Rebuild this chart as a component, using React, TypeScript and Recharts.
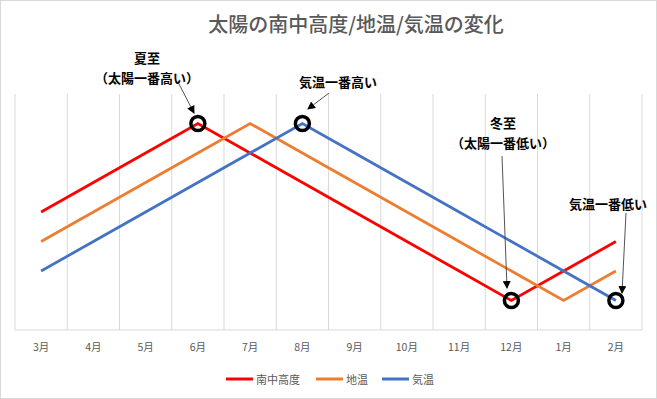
import React from 'react';
import { ComposedChart, Line, XAxis, YAxis, CartesianGrid, ReferenceDot } from 'recharts';

const months = ['3月', '4月', '5月', '6月', '7月', '8月', '9月', '10月', '11月', '12月', '1月', '2月'];
const altitude = [40, 50, 60, 70, 60, 50, 40, 30, 20, 10, 20, 30];
const soilTemp = [30, 40, 50, 60, 70, 60, 50, 40, 30, 20, 10, 20];
const airTemp = [20, 30, 40, 50, 60, 70, 60, 50, 40, 30, 20, 10];

const seriesKeys = ['altitude', 'soil', 'air'];
const seriesNames = ['南中高度', '地温', '気温'];
const seriesColors = ['#FF0000', '#ED7D31', '#4472C4'];

const highlights = [
  { x: '6月', y: 70 },
  { x: '8月', y: 70 },
  { x: '12月', y: 10 },
  { x: '2月', y: 10 },
];

const data = months.map((m, i) => ({ month: m, altitude: altitude[i], soil: soilTemp[i], air: airTemp[i] }));

const W = 657;
const H = 399;
const FONT = '"Noto Sans CJK JP", "Noto Sans", sans-serif';

const annotations = [
  { lines: ['夏至', '（太陽一番高い）'], x: 147, y: 57, arrow: [179, 84, 194, 113] },
  { lines: ['気温一番高い'], x: 338, y: 81, arrow: [329, 93, 308, 109] },
  { lines: ['冬至', '（太陽一番低い）'], x: 503, y: 122, arrow: [502, 156, 507, 288] },
  { lines: ['気温一番低い'], x: 608, y: 203, arrow: [626, 213, 622, 293] },
];

const legendLayout = [{ x: 226 }, { x: 316 }, { x: 382 }];

export default function App() {
  return (
    <div style={{ position: 'absolute', left: 0, top: 0, width: W, height: H, background: '#fff' }}>
      <ComposedChart width={W} height={H} data={data} margin={{ top: 94, right: 15, bottom: 39, left: 15 }}>
        <CartesianGrid
          horizontal={false}
          stroke="#d9d9d9"
          strokeWidth={1}
          verticalCoordinatesGenerator={({ offset }: any) =>
            Array.from({ length: months.length + 1 }, (_, i) => offset.left + (i * offset.width) / months.length)
          }
        />
        <XAxis
          dataKey="month"
          scale="band"
          axisLine={{ stroke: '#d9d9d9', strokeWidth: 1 }}
          tickLine={false}
          tickMargin={8}
          height={30}
          interval={0}
          tick={{ fill: '#595959', fontSize: 10.5, fontFamily: FONT }}
        />
        <YAxis hide domain={[0, 80]} />
        {seriesKeys.map((k, i) => (
          <Line
            key={k}
            type="linear"
            dataKey={k}
            name={seriesNames[i]}
            stroke={seriesColors[i]}
            strokeWidth={2.75}
            dot={false}
            activeDot={false}
            isAnimationActive={false}
          />
        ))}
        {highlights.map((h, i) => (
          <ReferenceDot key={i} x={h.x} y={h.y} r={7} fill="none" stroke="#000" strokeWidth={3.5} ifOverflow="visible" />
        ))}
      </ComposedChart>
      <svg width={W} height={H} style={{ position: 'absolute', left: 0, top: 0, pointerEvents: 'none' }}>
        <defs>
          <marker id="arr" markerUnits="userSpaceOnUse" markerWidth="8" markerHeight="8" refX="7" refY="4" orient="auto">
            <path d="M0,0 L8,4 L0,8 Z" fill="#000" />
          </marker>
        </defs>
        <rect x={0.5} y={0.5} width={W - 1} height={H - 1} fill="none" stroke="#d9d9d9" />
        <text x={356} y={23} textAnchor="middle" dominantBaseline="central" fontFamily={FONT} fontSize={20} fontWeight={500} fill="#595959">
          太陽の南中高度/地温/気温の変化
        </text>
        {annotations.map((a, i) => (
          <g key={i}>
            {a.lines.map((t, j) => (
              <text key={j} x={a.x} y={a.y + j * 20} textAnchor="middle" dominantBaseline="central" fontFamily={FONT} fontSize={13} fontWeight={700} fill="#000">
                {t}
              </text>
            ))}
            <line x1={a.arrow[0]} y1={a.arrow[1]} x2={a.arrow[2]} y2={a.arrow[3]} stroke="#404040" strokeWidth={0.9} markerEnd="url(#arr)" />
          </g>
        ))}
        {seriesNames.map((n, i) => (
          <g key={n}>
            <line x1={legendLayout[i].x} y1={379} x2={legendLayout[i].x + 27} y2={379} stroke={seriesColors[i]} strokeWidth={3} />
            <text x={legendLayout[i].x + 30} y={379} dominantBaseline="central" fontFamily={FONT} fontSize={11} fill="#595959">
              {n}
            </text>
          </g>
        ))}
      </svg>
    </div>
  );
}
